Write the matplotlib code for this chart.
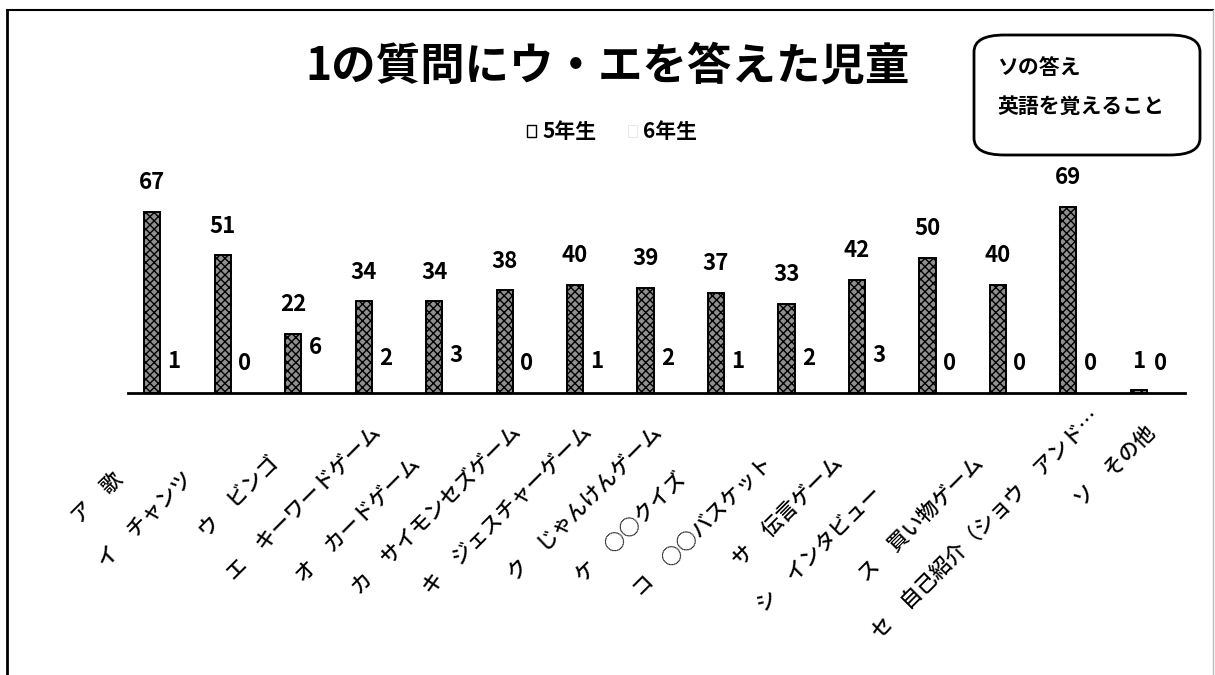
import numpy as np
import matplotlib.pyplot as plt
from matplotlib.patches import FancyBboxPatch, Patch
from matplotlib.lines import Line2D
from matplotlib.transforms import ScaledTranslation

plt.rcParams['font.family'] = ['Noto Sans CJK JP', 'DejaVu Sans']
plt.rcParams['hatch.linewidth'] = 1.0

# DATA (trailing spaces kept as typed in the source sheet)
categories = ['ア　歌　　　　', 'イ　チャンツ　　　　', 'ウ　ビンゴ　　　', 'エ　キーワードゲーム　',
              'オ　カードゲーム　　　', 'カ　サイモンセズゲーム　', 'キ　ジェスチャーゲーム　',
              'ク　じゃんけんゲーム　', 'ケ　○○クイズ　　　　', 'コ　○○バスケット　　　',
              'サ　伝言ゲーム　　　', 'シ　インタビュー　　　　　', 'ス　買い物ゲーム　　　',
              'セ　自己紹介（ショウ　アンド…', 'ソ　その他　']
grade5 = [67, 51, 22, 34, 34, 38, 40, 39, 37, 33, 42, 50, 40, 69, 1]
grade6 = [1, 0, 6, 2, 3, 0, 1, 2, 1, 2, 3, 0, 0, 0, 0]
series_names = ['5年生', '6年生']
title = '1の質問にウ・エを答えた児童'
note_lines = ['ソの答え', '英語を覚えること']

fig = plt.figure(figsize=(12.15, 6.75), dpi=100)
ax = fig.add_axes([128 / 1215, 282 / 675, 1057 / 1215, 216 / 675])

x = np.arange(len(categories))
w = 0.23
b5 = ax.bar(x - 0.155, grade5, w, facecolor='#8f8f8f', edgecolor='black',
            linewidth=1.4, hatch='xxxx')
b6 = ax.bar(x + 0.155, grade6, w, facecolor='white', edgecolor='none')

for bars, vals in ((b5, grade5), (b6, grade6)):
    for r, v in zip(bars, vals):
        ax.annotate(str(v), (r.get_x() + r.get_width() / 2, v),
                    xytext=(0, 21), textcoords='offset points',
                    ha='center', va='center', fontsize=16, fontweight='bold')

ax.set_xlim(-0.5, len(categories) - 0.5)
ax.set_ylim(0, 80)
for s in ['top', 'right', 'left']:
    ax.spines[s].set_visible(False)
ax.spines['bottom'].set_linewidth(2)
ax.set_yticks([])
ax.set_xticks(x)
ax.set_xticklabels([c.rstrip('\u3000') for c in categories], rotation=45,
                   ha='right', va='center', rotation_mode='anchor', fontsize=15,
                   fontweight='medium')
ax.tick_params(axis='x', length=0, pad=15)

# shift each label back along its direction by its trailing blanks
em = 15 / 72
for lab, c in zip(ax.get_xticklabels(), categories):
    n = len(c) - len(c.rstrip('\u3000'))
    d = n * em * 1.05
    off = ScaledTranslation(0.18 - d * np.cos(np.pi / 4), -d * np.sin(np.pi / 4),
                            fig.dpi_scale_trans)
    lab.set_transform(lab.get_transform() + off)

fig.text(0.5, 1 - 67 / 675, title, ha='center', va='center',
         fontsize=32, fontweight='bold')

handles = [Patch(facecolor='white', edgecolor='black', linewidth=1),
           Patch(facecolor='white', edgecolor='#dddddd', linewidth=0.5)]
fig.legend(handles, series_names, loc='center', bbox_to_anchor=(612 / 1215, 1 - 132 / 675),
           ncol=2, frameon=False, handlelength=0.45, handleheight=0.45,
           handletextpad=0.3, columnspacing=1.5,
           prop={'size': 15, 'weight': 'bold'})

# note box
box = FancyBboxPatch((974 / 1215, 1 - 155 / 675), 226 / 1215, 120 / 675,
                     boxstyle='round,pad=0,rounding_size=0.025',
                     transform=fig.transFigure, facecolor='white',
                     edgecolor='black', linewidth=2)
fig.patches.append(box)
fig.text(997 / 1215, 1 - 67 / 675, note_lines[0], ha='left', va='center',
         fontsize=15, fontweight='bold')
fig.text(997 / 1215, 1 - 106 / 675, note_lines[1], ha='left', va='center',
         fontsize=15, fontweight='bold')

# page frame
fig.add_artist(Line2D([7 / 1215, 7 / 1215], [0, 1 - 10 / 675], color='black',
                      linewidth=2, transform=fig.transFigure))
fig.add_artist(Line2D([7 / 1215, 1213 / 1215], [1 - 10 / 675, 1 - 10 / 675],
                      color='black', linewidth=1.5, transform=fig.transFigure))
fig.add_artist(Line2D([1213 / 1215, 1213 / 1215], [0, 1 - 10 / 675], color='#bbbbbb',
                      linewidth=1, transform=fig.transFigure))

fig.savefig('out.png', dpi=100)
